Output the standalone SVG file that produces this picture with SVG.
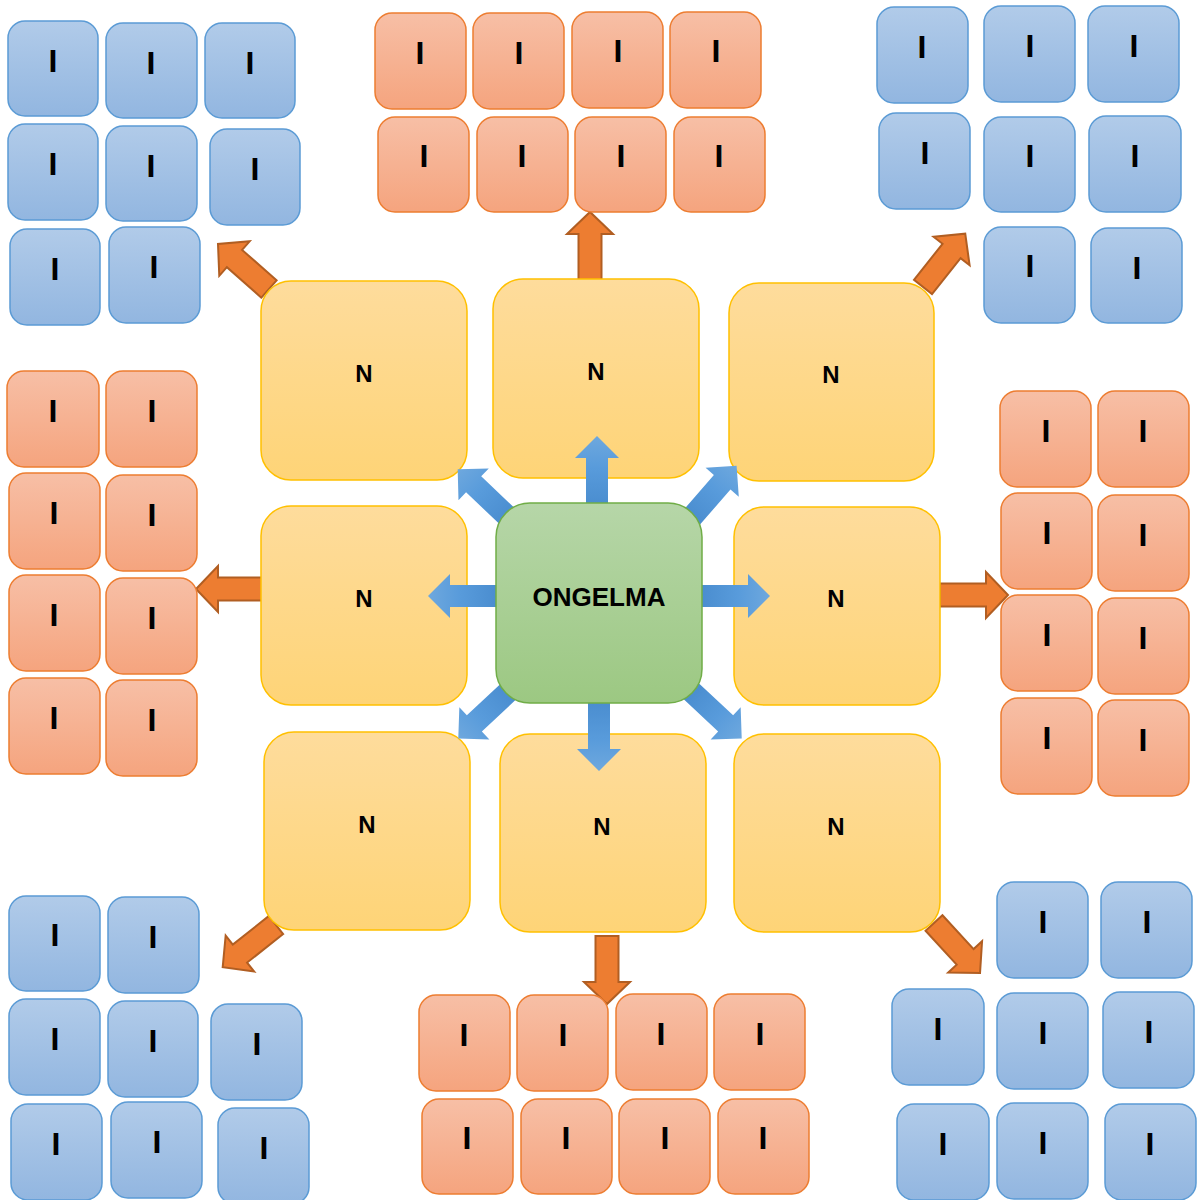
<svg xmlns="http://www.w3.org/2000/svg" xmlns:xlink="http://www.w3.org/1999/xlink" width="1197" height="1200" viewBox="0 0 1197 1200">
<defs>
<linearGradient id="gBlue" x1="0" y1="0" x2="0" y2="1"><stop offset="0" stop-color="#b1cbe9"/><stop offset="1" stop-color="#92b6e0"/></linearGradient>
<linearGradient id="gOrange" x1="0" y1="0" x2="0" y2="1"><stop offset="0" stop-color="#f7bfa6"/><stop offset="1" stop-color="#f5a47e"/></linearGradient>
<linearGradient id="gYellow" x1="0" y1="0" x2="0" y2="1"><stop offset="0" stop-color="#fedc9c"/><stop offset="1" stop-color="#fed477"/></linearGradient>
<linearGradient id="gGreen" x1="0" y1="0" x2="0" y2="1"><stop offset="0" stop-color="#b6d6a8"/><stop offset="1" stop-color="#9cc882"/></linearGradient>
<linearGradient id="gArrow" x1="0" y1="0" x2="1" y2="0"><stop offset="0" stop-color="#4689cc"/><stop offset="0.6" stop-color="#589bdb"/><stop offset="1" stop-color="#6ea8de"/></linearGradient>
<polygon id="bArrow" points="-12,-11 46,-11 46,-22 68,0 46,22 46,11 -12,11" fill="url(#gArrow)"/>
<polygon id="oArrow" points="0,-11.5 46,-11.5 46,-23 68,0 46,23 46,11.5 0,11.5" fill="#ed7d31" stroke="#b15e22" stroke-width="2" stroke-linejoin="miter"/>
</defs>
<style>
.ib{fill:url(#gBlue);stroke:#5b9bd5;stroke-width:1.5}
.io{fill:url(#gOrange);stroke:#ed7d31;stroke-width:1.5}
.n{fill:url(#gYellow);stroke:#ffc000;stroke-width:1.5}
.c{fill:url(#gGreen);stroke:#70ad47;stroke-width:1.5}
text{font-family:"Liberation Sans",Arial,sans-serif;font-weight:bold;fill:#000;text-anchor:middle}
.ti{font-size:32px}
.tn{font-size:24px}
.tc{font-size:26px}
</style>
<rect width="1197" height="1200" fill="#fff"/>

<g id="connectors-outer">
<use xlink:href="#oArrow" href="#oArrow" transform="translate(590,280) rotate(-90)"/>
<use xlink:href="#oArrow" href="#oArrow" transform="translate(269,289) rotate(-138.6)"/>
<use xlink:href="#oArrow" href="#oArrow" transform="translate(923,287) rotate(-51.6)"/>
<use xlink:href="#oArrow" href="#oArrow" transform="translate(940,595)"/>
<use xlink:href="#oArrow" href="#oArrow" transform="translate(264,589) rotate(180)"/>
<use xlink:href="#oArrow" href="#oArrow" transform="translate(276,925) rotate(141.6)"/>
<use xlink:href="#oArrow" href="#oArrow" transform="translate(607,936) rotate(90)"/>
<use xlink:href="#oArrow" href="#oArrow" transform="translate(934,923) rotate(47.4)"/>
</g>

<g id="n-tl"><rect class="n" x="261" y="281" width="206" height="199" rx="30"/><text class="tn" x="364" y="382">N</text></g>
<g id="n-tc"><rect class="n" x="493" y="279" width="206" height="199" rx="30"/><text class="tn" x="596" y="380">N</text></g>
<g id="n-tr"><rect class="n" x="729" y="283" width="205" height="198" rx="30"/><text class="tn" x="831" y="383">N</text></g>
<g id="n-ml"><rect class="n" x="261" y="506" width="206" height="199" rx="30"/><text class="tn" x="364" y="607">N</text></g>
<g id="n-mr"><rect class="n" x="734" y="507" width="206" height="198" rx="30"/><text class="tn" x="836" y="607">N</text></g>
<g id="n-bl"><rect class="n" x="264" y="732" width="206" height="198" rx="30"/><text class="tn" x="367" y="833">N</text></g>
<g id="n-bc"><rect class="n" x="500" y="734" width="206" height="198" rx="30"/><text class="tn" x="602" y="835">N</text></g>
<g id="n-br"><rect class="n" x="734" y="734" width="206" height="198" rx="30"/><text class="tn" x="836" y="835">N</text></g>

<g id="connectors-center">
<use xlink:href="#bArrow" href="#bArrow" transform="translate(597,504) rotate(-90)"/>
<use xlink:href="#bArrow" href="#bArrow" transform="translate(496,596) rotate(180)"/>
<use xlink:href="#bArrow" href="#bArrow" transform="translate(702,596)"/>
<use xlink:href="#bArrow" href="#bArrow" transform="translate(599,703) rotate(90)"/>
<use xlink:href="#bArrow" href="#bArrow" transform="translate(507,516) rotate(-136.5)"/>
<use xlink:href="#bArrow" href="#bArrow" transform="translate(692,517) rotate(-49)"/>
<use xlink:href="#bArrow" href="#bArrow" transform="translate(508,692) rotate(137)"/>
<use xlink:href="#bArrow" href="#bArrow" transform="translate(692,692) rotate(43)"/>
</g>

<g id="center"><rect class="c" x="496" y="503" width="206" height="200" rx="34"/><text class="tc" x="599" y="606">ONGELMA</text></g>

<g id="i-tl-1"><rect class="ib" x="8" y="21" width="90" height="95" rx="17"/><text class="ti" x="53" y="72">I</text></g>
<g id="i-tl-2"><rect class="ib" x="106" y="23" width="91" height="95" rx="17"/><text class="ti" x="151" y="74">I</text></g>
<g id="i-tl-3"><rect class="ib" x="205" y="23" width="90" height="95" rx="17"/><text class="ti" x="250" y="74">I</text></g>
<g id="i-tl-4"><rect class="ib" x="8" y="124" width="90" height="96" rx="17"/><text class="ti" x="53" y="175">I</text></g>
<g id="i-tl-5"><rect class="ib" x="106" y="126" width="91" height="95" rx="17"/><text class="ti" x="151" y="177">I</text></g>
<g id="i-tl-6"><rect class="ib" x="210" y="129" width="90" height="96" rx="17"/><text class="ti" x="255" y="180">I</text></g>
<g id="i-tl-7"><rect class="ib" x="10" y="229" width="90" height="96" rx="17"/><text class="ti" x="55" y="280">I</text></g>
<g id="i-tl-8"><rect class="ib" x="109" y="227" width="91" height="96" rx="17"/><text class="ti" x="154" y="278">I</text></g>

<g id="i-tc-1"><rect class="io" x="375" y="13" width="91" height="96" rx="17"/><text class="ti" x="420" y="64">I</text></g>
<g id="i-tc-2"><rect class="io" x="473" y="13" width="91" height="96" rx="17"/><text class="ti" x="519" y="64">I</text></g>
<g id="i-tc-3"><rect class="io" x="572" y="12" width="91" height="96" rx="17"/><text class="ti" x="618" y="62">I</text></g>
<g id="i-tc-4"><rect class="io" x="670" y="12" width="91" height="96" rx="17"/><text class="ti" x="716" y="62">I</text></g>
<g id="i-tc-5"><rect class="io" x="378" y="117" width="91" height="95" rx="17"/><text class="ti" x="424" y="167">I</text></g>
<g id="i-tc-6"><rect class="io" x="477" y="117" width="91" height="95" rx="17"/><text class="ti" x="522" y="167">I</text></g>
<g id="i-tc-7"><rect class="io" x="575" y="117" width="91" height="95" rx="17"/><text class="ti" x="621" y="167">I</text></g>
<g id="i-tc-8"><rect class="io" x="674" y="117" width="91" height="95" rx="17"/><text class="ti" x="719" y="167">I</text></g>

<g id="i-tr-1"><rect class="ib" x="877" y="7" width="91" height="96" rx="17"/><text class="ti" x="922" y="58">I</text></g>
<g id="i-tr-2"><rect class="ib" x="984" y="6" width="91" height="96" rx="17"/><text class="ti" x="1030" y="57">I</text></g>
<g id="i-tr-3"><rect class="ib" x="1088" y="6" width="91" height="96" rx="17"/><text class="ti" x="1134" y="57">I</text></g>
<g id="i-tr-4"><rect class="ib" x="879" y="113" width="91" height="96" rx="17"/><text class="ti" x="925" y="164">I</text></g>
<g id="i-tr-5"><rect class="ib" x="984" y="117" width="91" height="95" rx="17"/><text class="ti" x="1030" y="167">I</text></g>
<g id="i-tr-6"><rect class="ib" x="1089" y="116" width="92" height="96" rx="17"/><text class="ti" x="1135" y="167">I</text></g>
<g id="i-tr-7"><rect class="ib" x="984" y="227" width="91" height="96" rx="17"/><text class="ti" x="1030" y="277">I</text></g>
<g id="i-tr-8"><rect class="ib" x="1091" y="228" width="91" height="95" rx="17"/><text class="ti" x="1137" y="279">I</text></g>

<g id="i-l-1"><rect class="io" x="7" y="371" width="92" height="96" rx="17"/><text class="ti" x="53" y="422">I</text></g>
<g id="i-l-2"><rect class="io" x="106" y="371" width="91" height="96" rx="17"/><text class="ti" x="152" y="422">I</text></g>
<g id="i-l-3"><rect class="io" x="9" y="473" width="91" height="96" rx="17"/><text class="ti" x="54" y="524">I</text></g>
<g id="i-l-4"><rect class="io" x="106" y="475" width="91" height="96" rx="17"/><text class="ti" x="152" y="526">I</text></g>
<g id="i-l-5"><rect class="io" x="9" y="575" width="91" height="96" rx="17"/><text class="ti" x="54" y="626">I</text></g>
<g id="i-l-6"><rect class="io" x="106" y="578" width="91" height="96" rx="17"/><text class="ti" x="152" y="629">I</text></g>
<g id="i-l-7"><rect class="io" x="9" y="678" width="91" height="96" rx="17"/><text class="ti" x="54" y="729">I</text></g>
<g id="i-l-8"><rect class="io" x="106" y="680" width="91" height="96" rx="17"/><text class="ti" x="152" y="731">I</text></g>

<g id="i-r-1"><rect class="io" x="1000" y="391" width="91" height="96" rx="17"/><text class="ti" x="1046" y="442">I</text></g>
<g id="i-r-2"><rect class="io" x="1098" y="391" width="91" height="96" rx="17"/><text class="ti" x="1143" y="442">I</text></g>
<g id="i-r-3"><rect class="io" x="1001" y="493" width="91" height="96" rx="17"/><text class="ti" x="1047" y="544">I</text></g>
<g id="i-r-4"><rect class="io" x="1098" y="495" width="91" height="96" rx="17"/><text class="ti" x="1143" y="546">I</text></g>
<g id="i-r-5"><rect class="io" x="1001" y="595" width="91" height="96" rx="17"/><text class="ti" x="1047" y="646">I</text></g>
<g id="i-r-6"><rect class="io" x="1098" y="598" width="91" height="96" rx="17"/><text class="ti" x="1143" y="649">I</text></g>
<g id="i-r-7"><rect class="io" x="1001" y="698" width="91" height="96" rx="17"/><text class="ti" x="1047" y="749">I</text></g>
<g id="i-r-8"><rect class="io" x="1098" y="700" width="91" height="96" rx="17"/><text class="ti" x="1143" y="751">I</text></g>

<g id="i-bl-1"><rect class="ib" x="9" y="896" width="91" height="95" rx="17"/><text class="ti" x="55" y="946">I</text></g>
<g id="i-bl-2"><rect class="ib" x="108" y="897" width="91" height="96" rx="17"/><text class="ti" x="153" y="948">I</text></g>
<g id="i-bl-3"><rect class="ib" x="9" y="999" width="91" height="96" rx="17"/><text class="ti" x="55" y="1050">I</text></g>
<g id="i-bl-4"><rect class="ib" x="108" y="1001" width="90" height="96" rx="17"/><text class="ti" x="153" y="1052">I</text></g>
<g id="i-bl-5"><rect class="ib" x="211" y="1004" width="91" height="96" rx="17"/><text class="ti" x="257" y="1055">I</text></g>
<g id="i-bl-6"><rect class="ib" x="11" y="1104" width="91" height="96" rx="17"/><text class="ti" x="56" y="1155">I</text></g>
<g id="i-bl-7"><rect class="ib" x="111" y="1102" width="91" height="96" rx="17"/><text class="ti" x="157" y="1153">I</text></g>
<g id="i-bl-8"><rect class="ib" x="218" y="1108" width="91" height="96" rx="17"/><text class="ti" x="264" y="1159">I</text></g>

<g id="i-bc-1"><rect class="io" x="419" y="995" width="91" height="96" rx="17"/><text class="ti" x="464" y="1046">I</text></g>
<g id="i-bc-2"><rect class="io" x="517" y="995" width="91" height="96" rx="17"/><text class="ti" x="563" y="1046">I</text></g>
<g id="i-bc-3"><rect class="io" x="616" y="994" width="91" height="96" rx="17"/><text class="ti" x="661" y="1045">I</text></g>
<g id="i-bc-4"><rect class="io" x="714" y="994" width="91" height="96" rx="17"/><text class="ti" x="760" y="1045">I</text></g>
<g id="i-bc-5"><rect class="io" x="422" y="1099" width="91" height="95" rx="17"/><text class="ti" x="467" y="1149">I</text></g>
<g id="i-bc-6"><rect class="io" x="521" y="1099" width="91" height="95" rx="17"/><text class="ti" x="566" y="1149">I</text></g>
<g id="i-bc-7"><rect class="io" x="619" y="1099" width="91" height="95" rx="17"/><text class="ti" x="665" y="1149">I</text></g>
<g id="i-bc-8"><rect class="io" x="718" y="1099" width="91" height="95" rx="17"/><text class="ti" x="763" y="1149">I</text></g>

<g id="i-br-1"><rect class="ib" x="997" y="882" width="91" height="96" rx="17"/><text class="ti" x="1043" y="933">I</text></g>
<g id="i-br-2"><rect class="ib" x="1101" y="882" width="91" height="96" rx="17"/><text class="ti" x="1147" y="933">I</text></g>
<g id="i-br-3"><rect class="ib" x="892" y="989" width="92" height="96" rx="17"/><text class="ti" x="938" y="1040">I</text></g>
<g id="i-br-4"><rect class="ib" x="997" y="993" width="91" height="96" rx="17"/><text class="ti" x="1043" y="1044">I</text></g>
<g id="i-br-5"><rect class="ib" x="1103" y="992" width="91" height="96" rx="17"/><text class="ti" x="1149" y="1043">I</text></g>
<g id="i-br-6"><rect class="ib" x="897" y="1104" width="92" height="96" rx="17"/><text class="ti" x="943" y="1155">I</text></g>
<g id="i-br-7"><rect class="ib" x="997" y="1103" width="91" height="96" rx="17"/><text class="ti" x="1043" y="1154">I</text></g>
<g id="i-br-8"><rect class="ib" x="1105" y="1104" width="91" height="96" rx="17"/><text class="ti" x="1150" y="1155">I</text></g>
</svg>
